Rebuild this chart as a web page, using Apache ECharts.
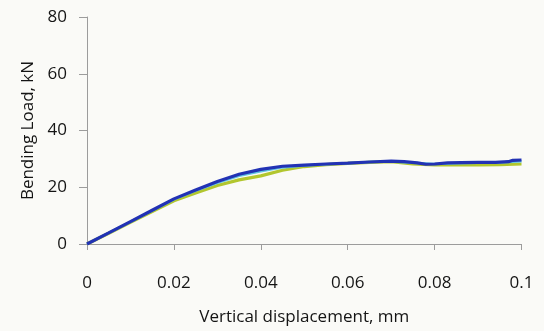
<!DOCTYPE html>
<html>
<head>
<meta charset="utf-8">
<script src="https://cdn.jsdelivr.net/npm/echarts@6/dist/echarts.min.js"></script>
<style>
  html, body { margin: 0; padding: 0; background: #fafaf7; }
  #chart { width: 544px; height: 331px; }
</style>
</head>
<body>
<div id="chart"></div>
<script>
// Bending load vs. vertical displacement for three specimens
const dispA = [0, 0.005, 0.01, 0.015, 0.02, 0.025, 0.03, 0.035, 0.04, 0.045, 0.05, 0.055, 0.06, 0.065, 0.07, 0.075, 0.08, 0.085, 0.09, 0.095, 0.1];
const loadGreen = [0, 3.8, 7.6, 11.4, 15.2, 18.0, 20.6, 22.6, 24.0, 26.0, 27.3, 28.0, 28.4, 28.8, 29.0, 28.2, 27.9, 28.0, 27.9, 28.0, 28.2];
const loadCyan = [0, 3.9, 7.8, 11.8, 15.7, 18.8, 21.6, 24.0, 25.6, 27.0, 27.7, 28.1, 28.5, 28.9, 29.1, 28.6, 28.2, 28.5, 28.6, 28.7, 29.2];

const dispB = [0, 0.005, 0.01, 0.015, 0.02, 0.025, 0.03, 0.035, 0.04, 0.045, 0.05, 0.055, 0.06, 0.065, 0.07, 0.073, 0.076, 0.078, 0.08, 0.083, 0.086, 0.09, 0.094, 0.097, 0.098, 0.1];
const loadBlue = [0, 3.9, 7.9, 11.9, 15.9, 19.0, 22.0, 24.6, 26.3, 27.4, 27.8, 28.2, 28.5, 28.9, 29.2, 29.0, 28.6, 28.1, 28.2, 28.6, 28.7, 28.8, 28.8, 29.0, 29.5, 29.6];

const xTicks = [0, 0.02, 0.04, 0.06, 0.08, 0.1];
const yTicks = [0, 20, 40, 60, 80];

const pairs = (xs, ys) => xs.map((x, i) => [x, ys[i]]);

const FONT = '"Open Sans", "Noto Sans", sans-serif';
const TEXT = '#141414';
const chart = echarts.init(document.getElementById('chart'), null, { renderer: 'canvas' });

chart.setOption({
  backgroundColor: '#fafaf7',
  animation: false,
  grid: { left: 87, right: 22.5, top: 17, bottom: 84, containLabel: false },
  xAxis: {
    type: 'value',
    min: xTicks[0],
    max: xTicks[xTicks.length - 1],
    interval: 0.02,
    name: 'Vertical displacement, mm',
    nameLocation: 'middle',
    nameGap: 65,
    nameTextStyle: { fontFamily: FONT, fontSize: 17, color: TEXT },
    axisLine: { lineStyle: { color: '#9c9c9c', width: 1 } },
    axisTick: { show: true, inside: false, length: 6, lineStyle: { color: '#9c9c9c' } },
    axisLabel: {
      margin: 31, fontFamily: FONT, fontSize: 17, color: TEXT,
      formatter: v => String(+v.toFixed(2))
    },
    splitLine: { show: false }
  },
  yAxis: {
    type: 'value',
    min: yTicks[0],
    max: yTicks[yTicks.length - 1],
    interval: 20,
    name: 'Bending Load, kN',
    nameLocation: 'middle',
    nameGap: 50,
    nameTextStyle: { fontFamily: FONT, fontSize: 17, color: TEXT },
    axisLine: { show: true, lineStyle: { color: '#9c9c9c', width: 1 } },
    axisTick: { show: true, inside: false, length: 8, lineStyle: { color: '#9c9c9c' } },
    axisLabel: { margin: 20, fontFamily: FONT, fontSize: 17, color: TEXT },
    splitLine: { show: false }
  },
  series: [
    {
      name: 'Specimen 1', type: 'line', data: pairs(dispA, loadGreen),
      showSymbol: false,
      lineStyle: { color: '#b2c62e', width: 3.2 }, z: 2
    },
    {
      name: 'Specimen 2', type: 'line', data: pairs(dispA, loadCyan),
      showSymbol: false,
      lineStyle: { color: '#5fc4e0', width: 2.5 }, z: 3
    },
    {
      name: 'Specimen 3', type: 'line', data: pairs(dispB, loadBlue),
      showSymbol: false,
      lineStyle: { color: '#2232b4', width: 3.2 }, z: 4
    }
  ]
});
</script>
</body>
</html>
